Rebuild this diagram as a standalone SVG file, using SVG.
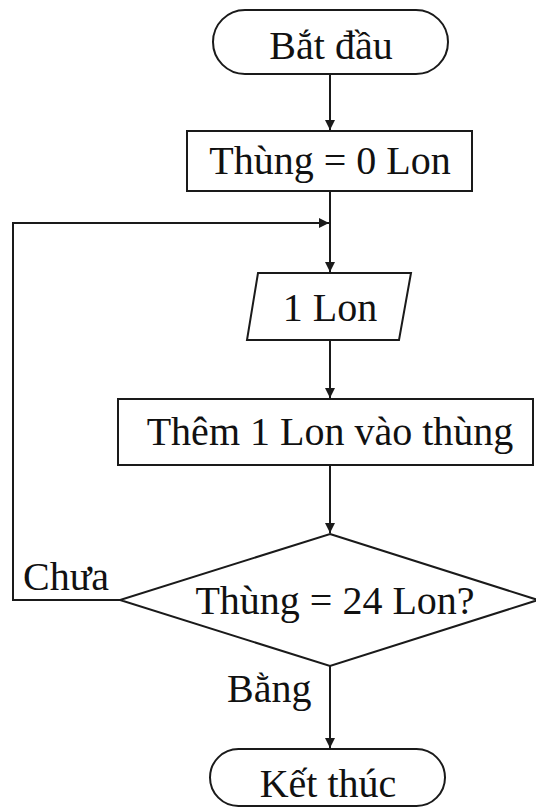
<svg xmlns="http://www.w3.org/2000/svg" width="536" height="811" viewBox="0 0 536 811">
<style>
.s{fill:#fff;stroke:#1a1a1a;stroke-width:2}
.c{fill:none;stroke:#1a1a1a;stroke-width:2}
.t{font-family:'Liberation Serif','DejaVu Serif',serif;font-size:40px;fill:#111}
.m{text-anchor:middle}
</style>
<defs>
<marker id="ah" viewBox="0 0 10 10" refX="10" refY="5" markerWidth="10" markerHeight="10" markerUnits="userSpaceOnUse" orient="auto">
<path d="M0,0 L10,5 L0,10 z" fill="#1a1a1a"/>
</marker>
</defs>
<rect width="536" height="811" fill="#fff"/>
<g id="connectors">
<line class="c" x1="330" y1="74" x2="330" y2="130" marker-end="url(#ah)"/>
<line class="c" x1="330" y1="191" x2="330" y2="272" marker-end="url(#ah)"/>
<line class="c" x1="330" y1="340" x2="330" y2="398" marker-end="url(#ah)"/>
<line class="c" x1="330" y1="465" x2="330" y2="533" marker-end="url(#ah)"/>
<line class="c" x1="330" y1="666" x2="330" y2="748" marker-end="url(#ah)"/>
<polyline class="c" points="120,600 13,600 13,223 329,223" marker-end="url(#ah)"/>
<text class="t" x="23" y="590">Chưa</text>
<text class="t" x="227" y="702">Bằng</text>
</g>
<g id="start">
<rect class="s" x="213" y="10" width="235" height="64" rx="32"/>
<text class="t m" x="331" y="59">Bắt đầu</text>
</g>
<g id="init">
<rect class="s" x="187" y="131" width="285" height="60"/>
<text class="t m" x="330" y="174">Thùng = 0 Lon</text>
</g>
<g id="input">
<polygon class="s" points="258,273 411,273 399,340 247,340"/>
<text class="t m" x="330" y="321">1 Lon</text>
</g>
<g id="add">
<rect class="s" x="118" y="399" width="415" height="66"/>
<text class="t m" x="330" y="445">Thêm 1 Lon vào thùng</text>
</g>
<g id="decision">
<polygon class="s" points="330,534 538,600 330,666 120,600"/>
<text class="t m" x="335" y="614">Thùng = 24 Lon?</text>
</g>
<g id="end">
<rect class="s" x="210" y="749" width="235" height="57" rx="28.5"/>
<text class="t m" x="328" y="797">Kết thúc</text>
</g>
</svg>
